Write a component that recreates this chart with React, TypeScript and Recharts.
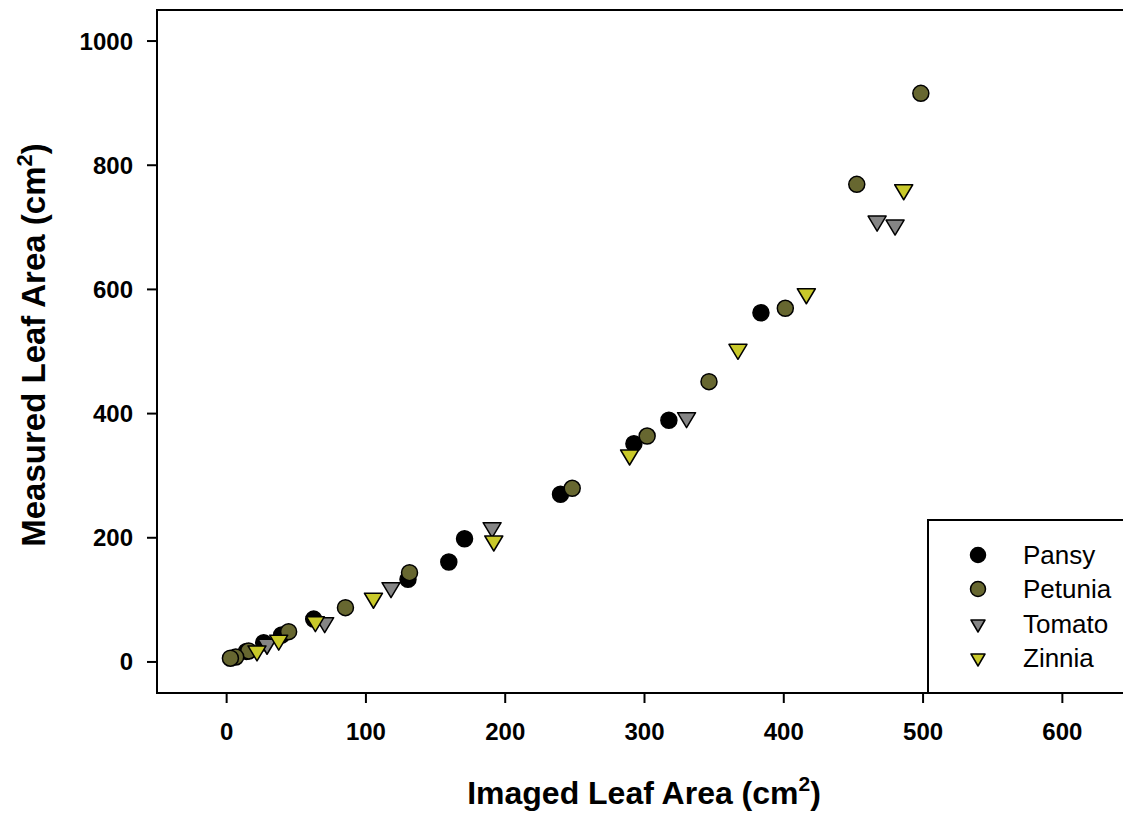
import { ReferenceArea, Scatter, ScatterChart, XAxis, YAxis } from "recharts";

const pansyX = [383.6, 317.5, 292.4, 239.7, 170.8, 159.5, 130.2, 62.5, 39.5, 26.6, 14.2];
const pansyY = [562.5, 389.2, 351.5, 270, 198.5, 161, 133, 69, 43.5, 31, 17];

const petuniaX = [498.4, 452.4, 401.1, 346.3, 301.9, 248.1, 131.3, 85.3, 44.5, 15.8, 6.5, 2.7];
const petuniaY = [915.8, 769.2, 569.6, 451.4, 363.9, 279.7, 143.8, 87.4, 48.8, 17.7, 8, 6];

const tomatoX = [467, 479.9, 330.2, 190.6, 118, 70.4, 29];
const tomatoY = [710, 703.7, 393.4, 216.3, 119.6, 63.3, 28.5];

const zinniaX = [486.1, 416.2, 367.1, 289.3, 191.8, 105.4, 63.7, 37.4, 21.8];
const zinniaY = [760.5, 593, 503.5, 333.3, 194.8, 102.6, 64.9, 35, 17.7];

const xTicks = [0, 100, 200, 300, 400, 500, 600];
const yTicks = [0, 200, 400, 600, 800, 1000];

const FONT = "'Liberation Sans', Arial, Helvetica, sans-serif";

const COLORS = {
  pansy: "#000000",
  petunia: "#676730",
  tomato: "#858585",
  zinnia: "#c9c92a",
};

const toPoints = (xs: number[], ys: number[]) => xs.map((x, i) => ({ x, y: ys[i] }));

function circleShape(color: string, r = 8) {
  return (props: any) => (
    <circle cx={props.cx} cy={props.cy} r={r} fill={color} stroke="#000" strokeWidth={1.5} />
  );
}

// downward pointing triangle, centroid on the data point
function triangleShape(color: string, w = 18, h = 15) {
  return (props: any) => {
    const { cx, cy } = props;
    const top = cy - h / 3;
    const d = `M${cx - w / 2},${top}L${cx + w / 2},${top}L${cx},${top + h}Z`;
    return <path d={d} fill={color} stroke="#000" strokeWidth={1.5} strokeLinejoin="round" />;
  };
}

const legendItems = [
  { name: "Pansy", color: COLORS.pansy, kind: "circle" },
  { name: "Petunia", color: COLORS.petunia, kind: "circle" },
  { name: "Tomato", color: COLORS.tomato, kind: "triangle" },
  { name: "Zinnia", color: COLORS.zinnia, kind: "triangle" },
];

function LegendBox() {
  return (
    <div
      style={{
        position: "absolute",
        left: 927,
        top: 519,
        width: 220,
        height: 175,
        boxSizing: "border-box",
        border: "2px solid #000",
        background: "#fff",
        fontFamily: FONT,
      }}
    >
      {legendItems.map((item, i) => (
        <div
          key={item.name}
          style={{ position: "absolute", left: 0, top: 34 + i * 34.4 - 16, height: 32, width: 200 }}
        >
          <svg width={30} height={32} style={{ position: "absolute", left: 34, top: 0 }}>
            {item.kind === "circle" ? (
              <circle cx={15} cy={16} r={7.5} fill={item.color} stroke="#000" strokeWidth={1.5} />
            ) : (
              <path
                d="M8,12L22,12L15,24Z"
                fill={item.color}
                stroke="#000"
                strokeWidth={1.5}
                strokeLinejoin="round"
              />
            )}
          </svg>
          <span
            style={{
              position: "absolute",
              left: 94,
              top: 0,
              lineHeight: "32px",
              fontSize: 26,
              color: "#000",
            }}
          >
            {item.name}
          </span>
        </div>
      ))}
    </div>
  );
}

const XTitle = () => (
  <text x={644} y={804} textAnchor="middle" fontFamily={FONT} fontSize={32} fontWeight={700} fill="#000">
    Imaged Leaf Area (cm
    <tspan dy={-13} fontSize={21}>2</tspan>
    <tspan dy={13}>)</tspan>
  </text>
);

const YTitle = () => (
  <text
    x={45}
    y={345}
    transform="rotate(-90, 45, 345)"
    textAnchor="middle"
    fontFamily={FONT}
    fontSize={33}
    fontWeight={700}
    fill="#000"
  >
    Measured Leaf Area (cm
    <tspan dy={-13} fontSize={22}>2</tspan>
    <tspan dy={13}>)</tspan>
  </text>
);

export default function App() {
  const tick = { fill: "#000", fontSize: 24, fontWeight: 700, fontFamily: FONT };
  const line = { stroke: "#000", strokeWidth: 2 };
  return (
    <div
      style={{
        position: "fixed",
        left: 0,
        top: 0,
        width: 1123,
        height: 813,
        overflow: "hidden",
        background: "#fff",
      }}
    >
      <ScatterChart width={1123} height={813} margin={{ top: 10, right: -9, bottom: 0, left: 0 }}>
        <XAxis
          type="number"
          dataKey="x"
          domain={[-50, 650]}
          ticks={xTicks}
          allowDataOverflow
          height={120}
          tick={tick}
          tickSize={10}
          tickMargin={20}
          tickLine={line}
          axisLine={line}
          label={{ content: XTitle }}
        />
        <YAxis
          type="number"
          dataKey="y"
          domain={[-50, 1050]}
          ticks={yTicks}
          allowDataOverflow
          width={157}
          tick={tick}
          tickSize={10}
          tickMargin={14}
          tickLine={line}
          axisLine={line}
          label={{ content: YTitle }}
        />
        <ReferenceArea x1={-50} x2={650} y1={-50} y2={1050} fill="none" stroke="#000" strokeWidth={2} />
        <Scatter
          name="Pansy"
          data={toPoints(pansyX, pansyY)}
          shape={circleShape(COLORS.pansy)}
          isAnimationActive={false}
        />
        <Scatter
          name="Petunia"
          data={toPoints(petuniaX, petuniaY)}
          shape={circleShape(COLORS.petunia)}
          isAnimationActive={false}
        />
        <Scatter
          name="Tomato"
          data={toPoints(tomatoX, tomatoY)}
          shape={triangleShape(COLORS.tomato)}
          isAnimationActive={false}
        />
        <Scatter
          name="Zinnia"
          data={toPoints(zinniaX, zinniaY)}
          shape={triangleShape(COLORS.zinnia)}
          isAnimationActive={false}
        />
      </ScatterChart>
      <LegendBox />
    </div>
  );
}
